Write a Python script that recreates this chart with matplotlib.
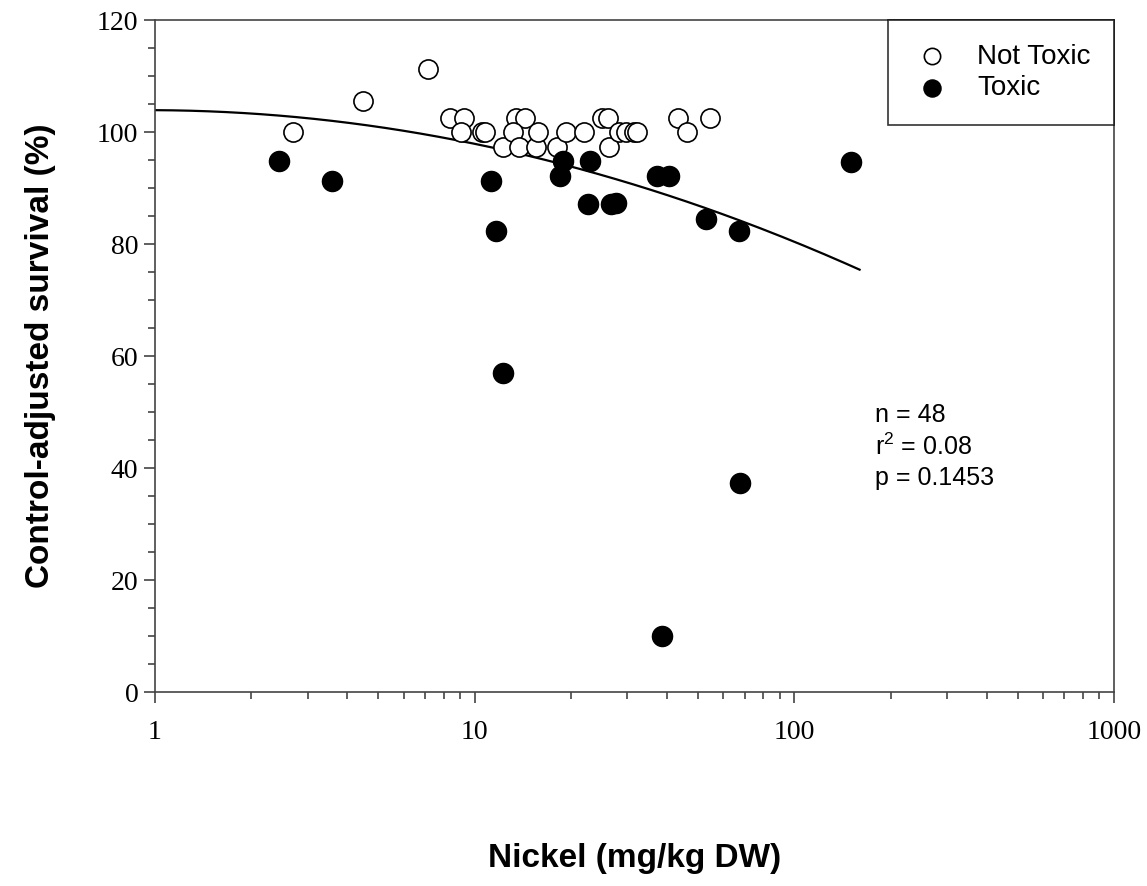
import matplotlib
matplotlib.use("Agg")
import matplotlib.pyplot as plt
import numpy as np

# Not toxic samples (open circles)
nt_nickel = [2.70, 4.46, 7.16, 8.39, 9.24, 9.08, 10.56, 10.80, 12.29, 13.49,
             14.36, 13.20, 13.73, 15.51, 15.81, 18.05, 19.34, 21.93, 24.96, 26.06,
             26.25, 28.34, 29.74, 31.50, 32.11, 43.35, 46.24, 54.45]
nt_surv = [100.0, 105.5, 111.3, 102.5, 102.5, 100.0, 100.0, 100.0, 97.3, 102.5,
           102.5, 100.0, 97.3, 97.3, 100.0, 97.3, 100.0, 100.0, 102.5, 102.5,
           97.3, 100.0, 100.0, 100.0, 100.0, 102.5, 100.0, 102.5]

# Toxic samples (filled circles)
tx_nickel = [2.45, 3.58, 11.27, 11.63, 12.24, 18.93, 18.45, 22.94, 22.61, 26.63,
             27.61, 37.17, 40.45, 52.9, 67.25, 67.6, 38.6, 150.4]
tx_surv = [94.9, 91.3, 91.3, 82.4, 57.0, 94.9, 92.2, 94.8, 87.1, 87.1,
           87.4, 92.2, 92.2, 84.5, 82.4, 37.3, 10.0, 94.7]

# quadratic regression in log10(x): y = c0 + c1*L + c2*L^2
fit_coef = [103.9, -0.27, -5.74]
fit_range = [1.0, 160.0]

stats_text = ["n = 48", "r$^2$ = 0.08", "p = 0.1453"]

plt.rcParams['mathtext.fontset'] = 'custom'
plt.rcParams['mathtext.rm'] = 'Liberation Sans'

fig = plt.figure(figsize=(11.47, 8.86), dpi=100)
ax = fig.add_axes([155 / 1147, 1 - 692 / 886, (1114 - 155) / 1147, (692 - 20) / 886])

xs = np.logspace(np.log10(fit_range[0]), np.log10(fit_range[1]), 200)
L = np.log10(xs)
ax.plot(xs, fit_coef[0] + fit_coef[1] * L + fit_coef[2] * L ** 2, color='black', lw=1.6, zorder=2)

ax.scatter(nt_nickel, nt_surv, s=190, facecolors='white', edgecolors='black',
           linewidths=1.2, zorder=3, label='Not Toxic')
ax.scatter(tx_nickel, tx_surv, s=210, facecolors='black', edgecolors='black',
           linewidths=1.0, zorder=3, label='Toxic')

ax.set_xscale('log')
ax.set_xlim(1, 1000)
ax.set_ylim(0, 120)
ax.set_yticks(range(0, 121, 20))
ax.set_yticks(range(0, 121, 5), minor=True)
ax.set_xticks([1, 10, 100, 1000])
ax.set_xticklabels(['1', '10', '100', '1000'])

for sp in ax.spines.values():
    sp.set_color('#444444')
    sp.set_linewidth(1.2)
ax.tick_params(which='major', direction='out', length=8, width=1.2, color='#444444',
               labelsize=20, pad=4)
ax.tick_params(which='minor', direction='out', length=5, width=1.2, color='#444444')
ax.tick_params(axis='x', which='major', pad=12)
for lab in ax.get_xticklabels() + ax.get_yticklabels():
    lab.set_fontfamily('Liberation Serif')

ax.set_ylabel('Control-adjusted survival (%)', fontsize=24, fontweight='bold',
              family='Liberation Sans')
ax.yaxis.set_label_coords(-0.103, 0.5)
ax.set_xlabel('Nickel (mg/kg DW)', fontsize=24, fontweight='bold',
              family='Liberation Sans')
ax.xaxis.set_label_coords(0.5, -0.225)

leg = ax.legend(loc='upper right', bbox_to_anchor=(1.0, 1.0), borderaxespad=0.0,
                frameon=True, fancybox=False, prop={'family': 'Liberation Sans', 'size': 20},
                handletextpad=0.85, borderpad=0.85, labelspacing=0.2, handlelength=1.5,
                markerscale=0.85)
leg.get_frame().set_edgecolor('black')
leg.get_frame().set_linewidth(1.2)

ax.text(0.751, 0.43, "\n".join(stats_text), transform=ax.transAxes, va='top', ha='left',
        fontsize=18, family='Liberation Sans', linespacing=1.3)

fig.savefig('out.png', dpi=100)
